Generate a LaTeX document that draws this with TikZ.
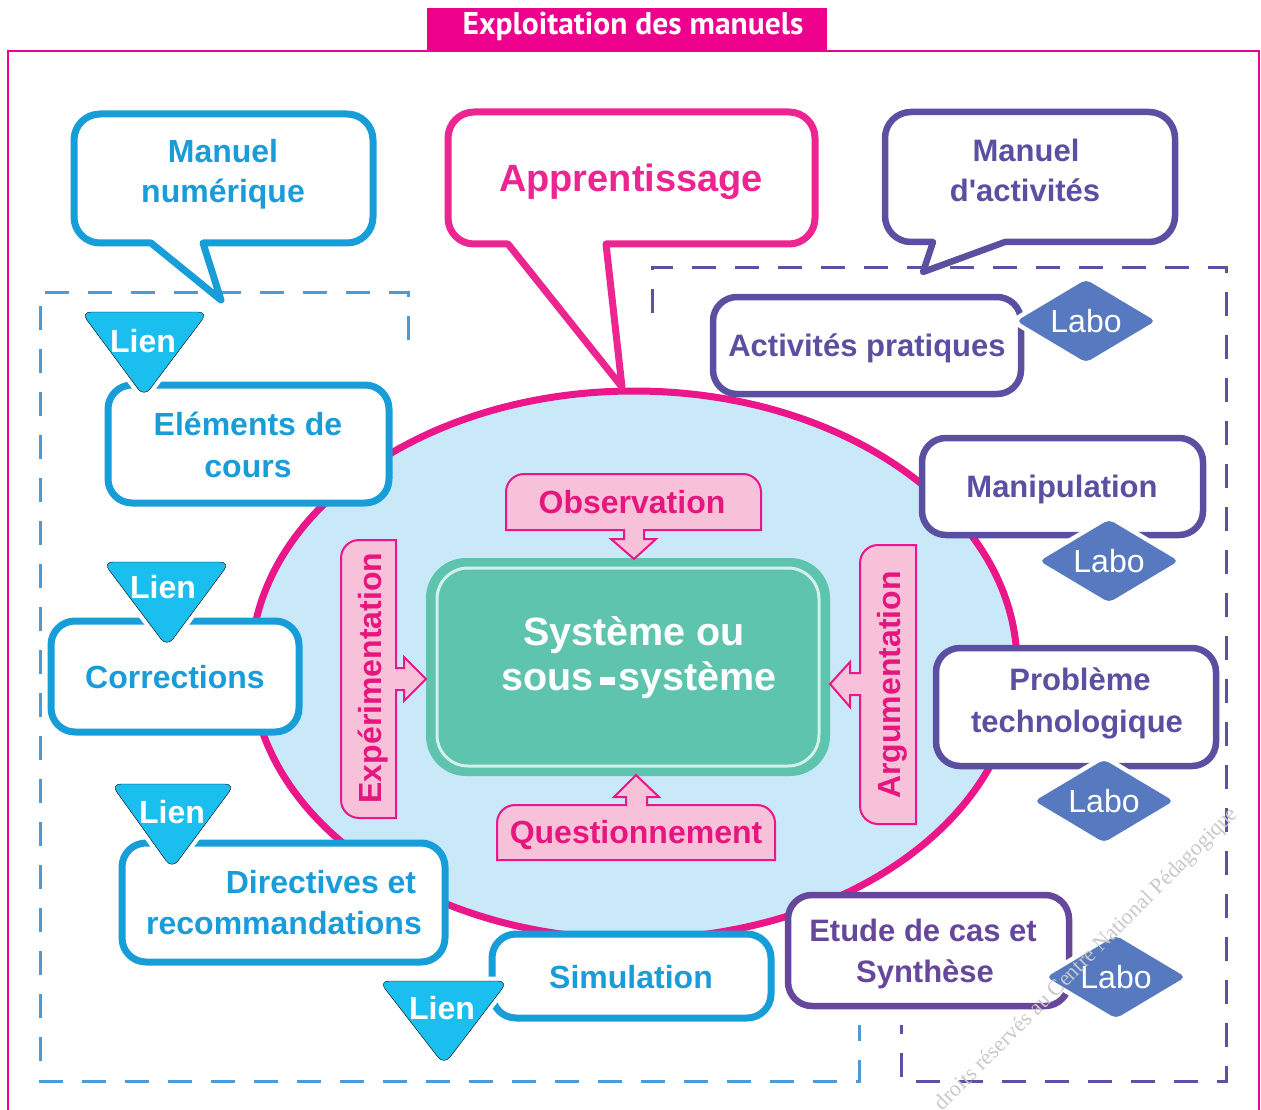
\documentclass[tikz,border=0pt]{standalone}
\usepackage{fontspec}
\setmainfont{Liberation Sans}
\newfontfamily\titlefont{PT Sans}
\newfontfamily\wmfont{Liberation Serif}
\usetikzlibrary{shapes.geometric}
\definecolor{magT}{HTML}{EC008C}
\definecolor{magE}{HTML}{EA168A}
\definecolor{magA}{HTML}{EC2591}
\definecolor{ellF}{HTML}{C9E9F9}
\definecolor{blueB}{HTML}{179ED9}
\definecolor{blueT}{HTML}{1A9CD8}
\definecolor{lienC}{HTML}{1ABFEF}
\definecolor{blueD}{HTML}{4C9BD8}
\definecolor{purB}{HTML}{5A4FA0}
\definecolor{purE}{HTML}{66479B}
\definecolor{purD}{HTML}{5A52A3}
\definecolor{laboC}{HTML}{5679BF}
\definecolor{greenC}{HTML}{5EC4AD}
\definecolor{greenL}{HTML}{D2F1EB}
\definecolor{pinkF}{HTML}{F7C1D9}
\definecolor{pinkT}{HTML}{E6167F}
\definecolor{wmC}{HTML}{C8C8C8}
\newcommand\fsz[1]{\fontsize{#1}{#1}\selectfont}
% #1 style, #2 L, #3 T, #4 R, #5 B, #6 radius, #7 left base x, #8 right base x, #9 tip
\newcommand\callout[9]{%
  \draw[#1] (#8,#5) -- ({#4-#6},#5) arc[start angle=270,end angle=360,radius=#6]
    -- (#4,{#3-#6}) arc[start angle=0,end angle=90,radius=#6]
    -- ({#2+#6},#3) arc[start angle=90,end angle=180,radius=#6]
    -- (#2,{#5+#6}) arc[start angle=180,end angle=270,radius=#6]
    -- (#7,#5) -- #9 -- cycle;}
\begin{document}
\begin{tikzpicture}[x=1pt,y=1pt,
  bbox/.style={draw=blueB, line width=7pt, fill=white, rounded corners=24pt, inner sep=0pt},
  pbox/.style={draw=purB, line width=6.5pt, fill=white, rounded corners=24pt, inner sep=0pt},
  txt/.style={inner sep=0pt, anchor=base, font=\bfseries\fsz{32}},
  btxt/.style={txt, text=blueT},
  ptxt/.style={txt, text=purB, font=\bfseries\fsz{31}},
  pinktxt/.style={txt, text=pinkT},
  pinkshape/.style={fill=pinkF, draw=magE, line width=2pt},
  lientri/.style={fill=lienC, rounded corners=10pt, preaction={draw=white, line width=9pt}},
  lientxt/.style={txt, text=white},
  labo/.style={diamond, fill=laboC, preaction={draw=white, line width=9pt}, rounded corners=5pt,
    minimum width=139pt, minimum height=83pt, shape aspect=1.67, inner sep=0pt,
    text=white, font=\fsz{32}},
  dashb/.style={draw=blueD, line width=3pt, dash pattern=on 24pt off 19pt},
  dashp/.style={draw=purD, line width=3pt, dash pattern=on 24pt off 19pt},
  callb/.style={draw=blueB, line width=7pt, fill=white, line join=round},
  calla/.style={draw=magA, line width=7pt, fill=white, line join=round},
  callp/.style={draw=purB, line width=6.5pt, fill=white, line join=round}]
\useasboundingbox (0,0) rectangle (1261,-1110);
% frame and title
\draw[magT, line width=1.5pt] (8,-1120) -- (8,-51) -- (1259,-51) -- (1259,-1120);
\node[fill=magT, minimum width=400pt, minimum height=42pt, inner sep=0pt] (titlebox) at (627,-29) {};
\node[inner sep=0pt, anchor=base, text=white, font=\titlefont\bfseries\fsz{31.5}] (title) at (633,-35) {Exploitation des manuels};
% dashed groups
\draw[dashb] (408,-340) -- (408,-292) -- (40,-292) -- (40,-1081) -- (859,-1081) -- (859,-1025);
\draw[dashp] (652,-313) -- (652,-267) -- (1226,-267) -- (1226,-1081) -- (901,-1081) -- (901,-1025);
% ellipse
\node[ellipse, draw=magE, fill=ellF, line width=7pt, minimum width=766pt, minimum height=548pt, inner sep=0pt] (ell) at (634,-665) {};
% callouts
\callout{callb}{74}{-114}{373}{-243}{26}{151}{203}{(221,-300)}
\node[btxt] (mn1) at (223,-163) {Manuel};
\node[btxt] (mn2) at (223,-203) {numérique};
\callout{calla}{448}{-112}{815}{-244}{26}{508}{606}{(622,-387)}
\node[txt, text=magA, font=\bfseries\fsz{38}] (appr) at (631,-192) {Apprentissage};
\callout{callp}{885}{-112}{1175}{-242}{26}{933}{1005}{(923,-272)}
\node[ptxt] (ma1) at (1026,-162) {Manuel};
\node[ptxt] (ma2) at (1025,-202) {d\textquotesingle activités};
% central system
\node[fill=greenC, rounded corners=40pt, minimum width=404pt, minimum height=218pt, inner sep=0pt] (sys) at (628,-667) {};
\node[draw=greenL, line width=3pt, rounded corners=31pt, minimum width=382pt, minimum height=198pt, inner sep=0pt] (sysin) at (628,-667) {};
\node[txt, text=white, font=\bfseries\fsz{39.5}] (sys1) at (634,-645) {Système ou};
\node[txt, text=white, font=\bfseries\fsz{39.5}] (sys2) at (639,-690) {sous\hspace{6pt}\rule[5pt]{15pt}{8pt}\hspace{4pt}système};
% pink approaches
\draw[pinkshape] (506,-530) -- (506,-492) arc[start angle=180,end angle=90,radius=18] -- (743,-474)
  arc[start angle=90,end angle=0,radius=18] -- (761,-530) -- (644,-530) -- (644,-539) -- (656,-539)
  -- (634,-559) -- (611,-539) -- (624,-539) -- (624,-530) -- cycle;
\node[pinktxt] (obs) at (632,-513) {Observation};
\draw[pinkshape] (497,-860) -- (497,-823) arc[start angle=180,end angle=90,radius=18] -- (626,-805)
  -- (626,-797) -- (614,-797) -- (636,-775) -- (659,-797) -- (647,-797) -- (647,-805) -- (757,-805)
  arc[start angle=90,end angle=0,radius=18] -- (775,-860) -- cycle;
\node[pinktxt] (ques) at (636,-843) {Questionnement};
\draw[pinkshape] (396,-540) -- (359,-540) arc[start angle=90,end angle=180,radius=18] -- (341,-800)
  arc[start angle=180,end angle=270,radius=18] -- (396,-818) -- (396,-690) -- (404,-690) -- (404,-701)
  -- (426,-679) -- (404,-657) -- (404,-668) -- (396,-668) -- cycle;
\node[pinktxt, rotate=90] (exp) at (381,-678) {Expérimentation};
\draw[pinkshape] (916,-545) -- (878,-545) arc[start angle=90,end angle=180,radius=18] -- (860,-673)
  -- (850,-673) -- (850,-662) -- (830,-684) -- (850,-707) -- (850,-695) -- (860,-695) -- (860,-806)
  arc[start angle=180,end angle=270,radius=18] -- (916,-824) -- cycle;
\node[pinktxt, rotate=90] (arg) at (900,-685) {Argumentation};
% left boxes
\node[bbox, minimum width=281pt, minimum height=118pt] (elem) at (248.5,-444) {};
\node[btxt] (elem1) at (248,-435) {Eléments de};
\node[btxt] (elem2) at (248,-477) {cours};
\node[bbox, minimum width=248pt, minimum height=111pt] (corr) at (175,-676.5) {};
\node[btxt] (corr1) at (175,-688) {Corrections};
\node[bbox, minimum width=323pt, minimum height=119pt] (dir) at (283.5,-902.5) {};
\node[btxt] (dir1) at (321,-893) {Directives et};
\node[btxt] (dir2) at (284,-934) {recommandations};
\node[bbox, minimum width=279pt, minimum height=84pt] (sim) at (631.5,-976) {};
\node[btxt] (sim1) at (631,-988) {Simulation};
% right boxes
\node[pbox, minimum width=308pt, minimum height=97pt] (act) at (867,-345.5) {};
\node[ptxt] (act1) at (867,-356) {Activités pratiques};
\node[pbox, minimum width=281pt, minimum height=97pt] (man) at (1062.5,-486.5) {};
\node[ptxt] (man1) at (1062,-497) {Manipulation};
\node[pbox, minimum width=280pt, minimum height=118pt] (pro) at (1076,-707) {};
\node[ptxt] (pro1) at (1080,-690) {Problème};
\node[ptxt] (pro2) at (1077,-732) {technologique};
\node[pbox, draw=purE, minimum width=281pt, minimum height=111pt] (etu) at (928.5,-950.5) {};
\node[ptxt, text=purE] (etu1) at (923,-941) {Etude de cas et};
\node[ptxt, text=purE] (etu2) at (925,-982) {Synthèse};
% labo diamonds
\node[labo] (lab1) at (1086,-321) {Labo};
\node[labo] (lab2) at (1109,-561) {Labo};
\node[labo] (lab3) at (1104,-801) {Labo};
\node[labo] (lab4) at (1116,-977) {Labo};
% lien triangles
\draw[lientri] (81,-312) -- (208,-312) -- (144,-397) -- cycle;
\node[lientxt] (lien1) at (143,-352) {Lien};
\draw[lientri] (103,-562) -- (230,-562) -- (167,-647) -- cycle;
\node[lientxt] (lien2) at (163,-598) {Lien};
\draw[lientri] (111,-784) -- (235,-784) -- (172,-869) -- cycle;
\node[lientxt] (lien3) at (172,-823) {Lien};
\draw[lientri] (379,-981) -- (508,-981) -- (444,-1065) -- cycle;
\node[lientxt] (lien4) at (442,-1019) {Lien};
% watermark
\node[inner sep=0pt, anchor=base east, rotate=45, text=wmC, font=\wmfont\fsz{22}] (wm) at (1239,-815) {droits réservés au Centre National Pédagogique};
\end{tikzpicture}
\end{document}
